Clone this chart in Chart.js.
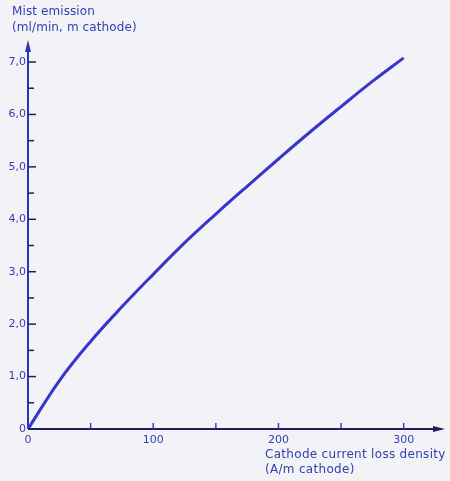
<!DOCTYPE html>
<html><head><meta charset="utf-8">
<script src="https://cdn.jsdelivr.net/npm/chart.js@4.4.1/dist/chart.umd.min.js"></script>
<style>html,body{margin:0;padding:0;background:#f3f3f7;}#wrap{width:450px;height:481px;}</style>
</head><body><div id="wrap"><canvas id="c" width="450" height="481"></canvas></div>
<script>
const currentDensity = [0, 25, 50, 75, 100, 125, 150, 175, 200, 225, 250, 275, 300];
const mistEmission   = [0, 0.92, 1.67, 2.33, 2.95, 3.55, 4.1, 4.63, 5.15, 5.66, 6.15, 6.63, 7.08];
const xTickLabels = {0:'0', 100:'100', 200:'200', 300:'300'};
const yTickLabels = {0:'0', 1:'1,0', 2:'2,0', 3:'3,0', 4:'4,0', 5:'5,0', 6:'6,0', 7:'7,0'};
const yTitle = ['Mist emission', '(ml/min, m cathode)'];
const xTitle = ['Cathode current loss density', '(A/m cathode)'];

const axisColor = '#1e1e5c';
const textColor = '#3040b0';
const fontFam = '"DejaVu Sans", sans-serif';

const decor = {
  id: 'decor',
  afterDraw(chart) {
    const ctx = chart.ctx, xs = chart.scales.x, ys = chart.scales.y;
    const x0 = xs.getPixelForValue(0), y0 = ys.getPixelForValue(0);
    ctx.save();
    ctx.strokeStyle = axisColor; ctx.fillStyle = axisColor; ctx.lineWidth = 2;
    ctx.beginPath();
    ctx.moveTo(x0, y0); ctx.lineTo(xs.right - 4, y0);
    ctx.stroke();
    ctx.strokeStyle = '#2a36b8';
    ctx.beginPath();
    ctx.moveTo(x0, y0); ctx.lineTo(x0, ys.top + 4);
    ctx.stroke();
    ctx.beginPath();
    ctx.moveTo(xs.right, y0); ctx.lineTo(xs.right - 12, y0 - 3); ctx.lineTo(xs.right - 12, y0 + 3); ctx.closePath(); ctx.fill();
    ctx.fillStyle = '#2a36b8';
    ctx.beginPath();
    ctx.moveTo(x0, ys.top); ctx.lineTo(x0 - 3, ys.top + 12); ctx.lineTo(x0 + 3, ys.top + 12); ctx.closePath(); ctx.fill();
    ctx.lineWidth = 1.5;
    ctx.strokeStyle = axisColor;
    ys.ticks.forEach(t => {
      if (t.value <= 0 || t.value > 7.01) return;
      const p = ys.getPixelForValue(t.value);
      const len = Number.isInteger(t.value) ? 8 : 6;
      ctx.beginPath(); ctx.moveTo(x0, p); ctx.lineTo(x0 + len, p); ctx.stroke();
    });
    ctx.strokeStyle = '#3344bb';
    xs.ticks.forEach(t => {
      if (t.value <= 0 || t.value > 300.1) return;
      const p = xs.getPixelForValue(t.value);
      ctx.beginPath(); ctx.moveTo(p, y0); ctx.lineTo(p, y0 - 6); ctx.stroke();
    });
    ctx.fillStyle = textColor;
    ctx.font = '12px ' + fontFam;
    ctx.letterSpacing = '0.1px';
    ctx.textBaseline = 'middle'; ctx.textAlign = 'left';
    ctx.fillText(yTitle[0], 12, 12);
    ctx.fillText(yTitle[1], 12, 28);
    ctx.letterSpacing = '0.3px';
    ctx.fillText(xTitle[0], 265, 455);
    ctx.fillText(xTitle[1], 265, 470);
    ctx.restore();
  }
};

new Chart(document.getElementById('c'), {
  type: 'line',
  data: {
    labels: currentDensity,
    datasets: [{
      data: currentDensity.map((x, i) => ({x, y: mistEmission[i]})),
      borderColor: '#3636cc',
      borderWidth: 3,
      pointRadius: 0,
      tension: 0.4,
      fill: false
    }]
  },
  options: {
    responsive: false,
    animation: false,
    devicePixelRatio: 1,
    layout: {padding: {top: 40, right: 4, left: 0, bottom: 0}},
    plugins: {legend: {display: false}, tooltip: {enabled: false}},
    scales: {
      x: {
        type: 'linear', min: 0, max: 333,
        grid: {display: false, drawTicks: false},
        border: {display: false},
        afterFit(s) { s.height = 52; },
        ticks: {
          stepSize: 50, autoSkip: false, padding: 5, maxRotation: 0,
          color: textColor, font: {family: fontFam, size: 11},
          callback: v => xTickLabels[v] ?? ''
        }
      },
      y: {
        min: 0, max: 7.42,
        grid: {display: false, drawTicks: false},
        border: {display: false},
        afterFit(s) { s.width = 28; },
        ticks: {
          stepSize: 0.5, autoSkip: false, padding: 2,
          color: textColor, font: {family: fontFam, size: 11},
          callback: v => yTickLabels[v] ?? ''
        }
      }
    }
  },
  plugins: [decor]
});
</script>
</body></html>
